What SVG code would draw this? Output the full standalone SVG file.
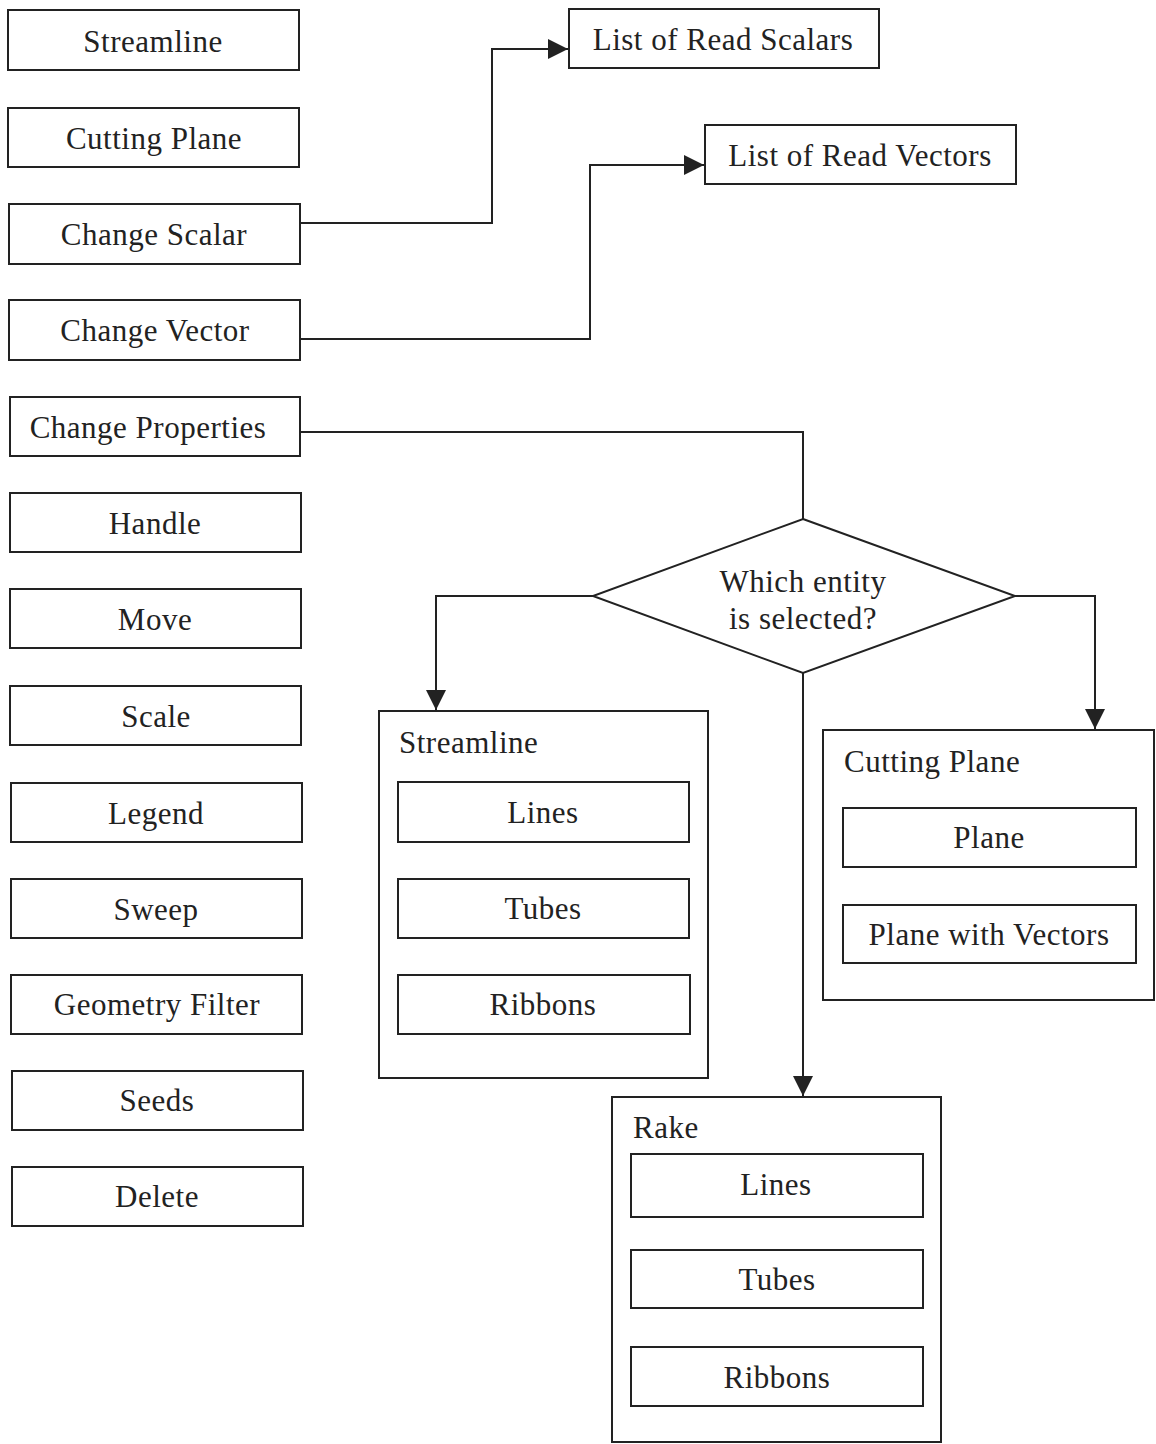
<svg xmlns="http://www.w3.org/2000/svg" width="1156" height="1444" viewBox="0 0 1156 1444">
<defs>
<style>
.b{fill:#fff;stroke:#222;stroke-width:2}
.t{font-family:"Liberation Serif","Times New Roman",serif;font-size:31px;letter-spacing:0.5px;fill:#222;text-anchor:middle}
.l{font-family:"Liberation Serif","Times New Roman",serif;font-size:31px;letter-spacing:0.5px;fill:#222;text-anchor:start}
.c{fill:none;stroke:#222;stroke-width:2}
</style>
<marker id="ah" markerUnits="userSpaceOnUse" markerWidth="20" markerHeight="20" refX="20" refY="10" orient="auto">
<path d="M0,0 L20,10 L0,20 z" fill="#222"/>
</marker>
</defs>
<rect width="1156" height="1444" fill="#fff"/>
<g id="connectors">
<polyline class="c" points="300,223 492,223 492,49 568,49" marker-end="url(#ah)"/>
<polyline class="c" points="300,339 590,339 590,165 704,165" marker-end="url(#ah)"/>
<polyline class="c" points="300,432 803,432 803,519"/>
<polyline class="c" points="593,596 436,596 436,710" marker-end="url(#ah)"/>
<polyline class="c" points="1015,596 1095,596 1095,729" marker-end="url(#ah)"/>
<polyline class="c" points="803,673 803,1096" marker-end="url(#ah)"/>
</g>
<g id="n-streamline"><rect class="b" x="8" y="10" width="291" height="60"/><text class="t" x="153" y="52">Streamline</text></g>
<g id="n-cutting-plane"><rect class="b" x="8" y="108" width="291" height="59"/><text class="t" x="154" y="149">Cutting Plane</text></g>
<g id="n-change-scalar"><rect class="b" x="9" y="204" width="291" height="60"/><text class="t" x="154" y="245">Change Scalar</text></g>
<g id="n-change-vector"><rect class="b" x="9" y="300" width="291" height="60"/><text class="t" x="155" y="341">Change Vector</text></g>
<g id="n-change-properties"><rect class="b" x="10" y="397" width="290" height="59"/><text class="t" x="148" y="438">Change Properties</text></g>
<g id="n-handle"><rect class="b" x="10" y="493" width="291" height="59"/><text class="t" x="155" y="534">Handle</text></g>
<g id="n-move"><rect class="b" x="10" y="589" width="291" height="59"/><text class="t" x="155" y="630">Move</text></g>
<g id="n-scale"><rect class="b" x="10" y="686" width="291" height="59"/><text class="t" x="156" y="727">Scale</text></g>
<g id="n-legend"><rect class="b" x="11" y="783" width="291" height="59"/><text class="t" x="156" y="824">Legend</text></g>
<g id="n-sweep"><rect class="b" x="11" y="879" width="291" height="59"/><text class="t" x="156" y="920">Sweep</text></g>
<g id="n-geometry-filter"><rect class="b" x="11" y="975" width="291" height="59"/><text class="t" x="157" y="1015">Geometry Filter</text></g>
<g id="n-seeds"><rect class="b" x="12" y="1071" width="291" height="59"/><text class="t" x="157" y="1111">Seeds</text></g>
<g id="n-delete"><rect class="b" x="12" y="1167" width="291" height="59"/><text class="t" x="157" y="1207">Delete</text></g>
<g id="n-list-scalars"><rect class="b" x="569" y="9" width="310" height="59"/><text class="t" x="723" y="50">List of Read Scalars</text></g>
<g id="n-list-vectors"><rect class="b" x="705" y="125" width="311" height="59"/><text class="t" x="860" y="166">List of Read Vectors</text></g>
<g id="n-decision"><polygon class="b" points="803,519 1015,596 803,673 593,596"/><text class="t" x="803" y="592">Which entity</text><text class="t" x="803" y="629">is selected?</text></g>
<g id="n-streamline-group">
<rect class="b" x="379" y="711" width="329" height="367"/>
<text class="l" x="399" y="753">Streamline</text>
<rect class="b" x="398" y="782" width="291" height="60"/><text class="t" x="543" y="823">Lines</text>
<rect class="b" x="398" y="879" width="291" height="59"/><text class="t" x="543" y="919">Tubes</text>
<rect class="b" x="398" y="975" width="292" height="59"/><text class="t" x="543" y="1015">Ribbons</text>
</g>
<g id="n-cutting-group">
<rect class="b" x="823" y="730" width="331" height="270"/>
<text class="l" x="844" y="772">Cutting Plane</text>
<rect class="b" x="843" y="808" width="293" height="59"/><text class="t" x="989" y="848">Plane</text>
<rect class="b" x="843" y="905" width="293" height="58"/><text class="t" x="989" y="945">Plane with Vectors</text>
</g>
<g id="n-rake-group">
<rect class="b" x="612" y="1097" width="329" height="345"/>
<text class="l" x="633" y="1138">Rake</text>
<rect class="b" x="631" y="1154" width="292" height="63"/><text class="t" x="776" y="1195">Lines</text>
<rect class="b" x="631" y="1250" width="292" height="58"/><text class="t" x="777" y="1290">Tubes</text>
<rect class="b" x="631" y="1347" width="292" height="59"/><text class="t" x="777" y="1388">Ribbons</text>
</g>
</svg>
